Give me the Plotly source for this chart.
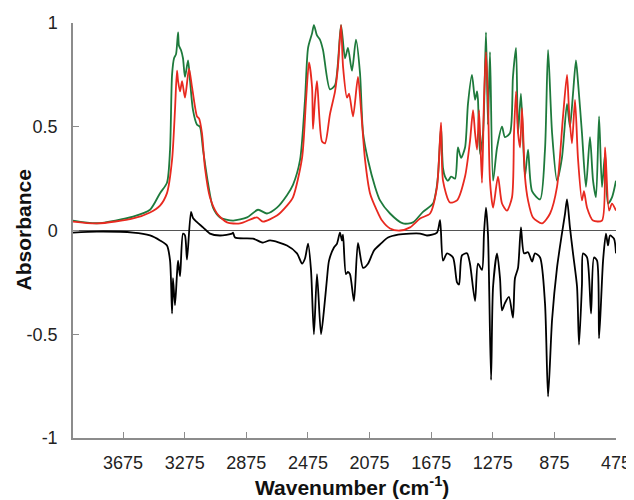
import plotly.graph_objects as go

# ---- data ----
wn_green = [4000, 3844, 3610, 3500, 3435, 3390, 3370, 3357, 3344, 3331, 3318, 3312, 3299, 3286, 3273,
            3253, 3240, 3221, 3195, 3176, 3156, 3124, 3091, 3046, 2961, 2870, 2799, 2741, 2676, 2611,
            2572, 2526, 2494, 2474, 2448, 2436, 2416, 2397, 2377, 2332, 2299, 2260, 2234, 2215, 2189,
            2163, 2137, 2117, 2085, 2039, 2007, 1942, 1858, 1793, 1728, 1663, 1643, 1630, 1611, 1598,
            1585, 1565, 1546, 1520, 1501, 1481, 1455, 1436, 1410, 1390, 1377, 1371, 1358, 1338, 1319,
            1306, 1293, 1273, 1247, 1215, 1196, 1163, 1144, 1124, 1111, 1092, 1066, 1046, 1020, 968,
            936, 916, 890, 858, 826, 793, 774, 754, 735, 722, 696, 670, 644, 624, 605, 585, 566, 546,
            527, 501, 475]
abs_green = [0.048, 0.035, 0.067, 0.10, 0.18, 0.23, 0.39, 0.75, 0.83, 0.85, 0.955, 0.89, 0.87, 0.83, 0.74,
             0.82, 0.72, 0.58, 0.51, 0.50, 0.39, 0.23, 0.11, 0.063, 0.048, 0.063, 0.10, 0.082, 0.11, 0.17,
             0.22, 0.34, 0.63, 0.88, 0.95, 0.99, 0.94, 0.92, 0.87, 0.68, 0.70, 0.99, 0.83, 0.88, 0.77,
             0.92, 0.76, 0.47, 0.34, 0.21, 0.145, 0.082, 0.034, 0.039, 0.09, 0.13, 0.19, 0.27, 0.50, 0.30,
             0.26, 0.24, 0.26, 0.25, 0.40, 0.35, 0.40, 0.61, 0.75, 0.63, 0.67, 0.63, 0.37, 0.47, 0.955,
             0.51, 0.86, 0.24, 0.40, 0.50, 0.45, 0.47, 0.74, 0.88, 0.47, 0.66, 0.26, 0.39, 0.19, 0.15,
             0.39, 0.87, 0.47, 0.24, 0.35, 0.61, 0.50, 0.66, 0.82, 0.72, 0.47, 0.21, 0.45, 0.24, 0.16,
             0.55, 0.21, 0.37, 0.13, 0.16, 0.24]

wn_red = [4000, 3844, 3610, 3500, 3435, 3390, 3357, 3338, 3325, 3318, 3305, 3292, 3273, 3247, 3227,
          3195, 3182, 3163, 3143, 3111, 3065, 3000, 2916, 2806, 2767, 2676, 2611, 2572, 2513, 2487,
          2468, 2448, 2442, 2429, 2416, 2384, 2364, 2332, 2299, 2280, 2260, 2247, 2221, 2208, 2182,
          2150, 2130, 2104, 2072, 2027, 1994, 1942, 1877, 1812, 1747, 1682, 1637, 1611, 1598, 1553,
          1507, 1455, 1423, 1403, 1390, 1377, 1364, 1345, 1332, 1319, 1306, 1293, 1273, 1241, 1215,
          1183, 1150, 1137, 1124, 1111, 1098, 1085, 1066, 1046, 1014, 955, 903, 858, 819, 793, 780,
          761, 741, 722, 696, 683, 663, 624, 566, 546, 520, 501, 475]
abs_red = [0.043, 0.034, 0.058, 0.087, 0.12, 0.18, 0.34, 0.58, 0.77, 0.72, 0.67, 0.72, 0.64, 0.78, 0.69,
           0.55, 0.54, 0.47, 0.30, 0.16, 0.082, 0.039, 0.034, 0.063, 0.043, 0.072, 0.12, 0.16, 0.35, 0.63,
           0.81, 0.69, 0.49, 0.63, 0.72, 0.43, 0.42, 0.56, 0.67, 0.79, 0.99, 0.79, 0.64, 0.66, 0.55,
           0.74, 0.58, 0.34, 0.18, 0.096, 0.048, 0.01, 0.0, 0.015, 0.058, 0.082, 0.21, 0.52, 0.24, 0.135,
           0.145, 0.26, 0.43, 0.58, 0.47, 0.39, 0.58, 0.23, 0.63, 0.86, 0.63, 0.24, 0.11, 0.26, 0.13,
           0.096, 0.16, 0.47, 0.67, 0.47, 0.40, 0.59, 0.26, 0.145, 0.063, 0.034, 0.082, 0.21, 0.55, 0.75, 0.58,
           0.42, 0.63, 0.35, 0.145, 0.19, 0.11, 0.048, 0.048, 0.40, 0.096, 0.13, 0.096]

wn_diff = [4000, 3845, 3610, 3500, 3435, 3390, 3370, 3357, 3351, 3338, 3325, 3318, 3305, 3286, 3273,
           3260, 3234, 3221, 3195, 3156, 3111, 3046, 2968, 2961, 2948, 2831, 2767, 2721, 2611, 2546,
           2513, 2494, 2474, 2455, 2436, 2416, 2390, 2371, 2351, 2338, 2306, 2286, 2267, 2254, 2247,
           2228, 2215, 2202, 2176, 2150, 2117, 2085, 2046, 2001, 1955, 1890, 1812, 1747, 1702, 1637,
           1617, 1598, 1572, 1533, 1507, 1494, 1475, 1442, 1423, 1390, 1371, 1345, 1332, 1319, 1306,
           1286, 1273, 1247, 1228, 1215, 1196, 1170, 1144, 1131, 1111, 1092, 1072, 1046, 1020, 1001,
           968, 936, 916, 890, 858, 826, 806, 793, 774, 754, 728, 715, 696, 689, 663, 637, 618, 598,
           585, 559, 540, 527, 514, 488, 475]
abs_diff = [-0.01, -0.005, -0.01, -0.024, -0.048, -0.072, -0.145, -0.40, -0.23, -0.36, -0.21, -0.145, -0.22, -0.015, -0.024,
            -0.14, 0.09, 0.06, 0.04, 0.015, -0.015, -0.024, -0.015, -0.01, -0.034, -0.039, -0.058, -0.048, -0.072, -0.11,
            -0.16, -0.135, -0.063, -0.19, -0.50, -0.21, -0.50, -0.385, -0.23, -0.145, -0.082, -0.063, -0.01, -0.048, -0.02,
            -0.21, -0.20, -0.21, -0.34, -0.06, -0.18, -0.16, -0.096, -0.063, -0.034, -0.02, -0.015, -0.015, -0.024, -0.01,
            0.05, -0.145, -0.11, -0.13, -0.25, -0.26, -0.12, -0.11, -0.16, -0.34, -0.16, -0.19, -0.015, 0.11, -0.02,
            -0.72, -0.27, -0.11, -0.23, -0.385, -0.35, -0.32, -0.42, -0.23, -0.18, 0.015, -0.11, -0.105, -0.15, -0.11,
            -0.13, -0.35, -0.80, -0.43, -0.18, -0.015, 0.08, 0.15, 0.015, -0.11, -0.27, -0.55, -0.26, -0.11, -0.13, -0.40, -0.13, -0.145,
            -0.52, -0.145, -0.015, -0.072, -0.024, -0.04, -0.11]

x_ticks = [3675, 3275, 2875, 2475, 2075, 1675, 1275, 875, 475]
y_ticks = [-1, -0.5, 0, 0.5, 1]
y_tick_text = ["-1", "-0.5", "0", "0.5", "1"]
x_title = "<b>Wavenumber (cm<sup>-1</sup>)</b>"
y_title = "<b>Absorbance</b>"

FONT = "Liberation Sans, Arial, sans-serif"
LINE = dict(width=1.8, shape="spline", smoothing=0.7)

fig = go.Figure()
fig.add_trace(go.Scatter(x=wn_green, y=abs_green, mode="lines", line=dict(color="#1e7a3c", **LINE)))
fig.add_trace(go.Scatter(x=wn_red, y=abs_red, mode="lines", line=dict(color="#e8291f", **LINE)))
fig.add_trace(go.Scatter(x=wn_diff, y=abs_diff, mode="lines", line=dict(color="#000000", **LINE)))

# the page body has an 8px margin, so the figure is shifted by 8px; margins compensate
fig.update_layout(
    width=634, height=500,
    margin=dict(l=65, r=26, t=15, b=70, autoexpand=False),
    plot_bgcolor="white", paper_bgcolor="white",
    showlegend=False,
    font=dict(family=FONT, size=18, color="#222222"),
    annotations=[
        dict(text=x_title, xref="paper", yref="paper", x=0.513, y=0, yshift=-48,
             xanchor="center", yanchor="middle", showarrow=False,
             font=dict(size=21, color="#111111")),
        dict(text=y_title, xref="paper", yref="paper", x=0, y=0.5, xshift=-50,
             xanchor="center", yanchor="middle", showarrow=False, textangle=-90,
             font=dict(size=21, color="#111111")),
    ],
)
fig.update_xaxes(
    range=[4000, 475], tickvals=x_ticks, ticktext=[str(t) for t in x_ticks],
    showgrid=False, zeroline=False, automargin=False,
    showline=True, linecolor="#8c8c8c", linewidth=1.5,
    ticks="inside", ticklen=6, tickcolor="#8c8c8c", tickwidth=1.2,
    ticklabelstandoff=8,
)
fig.update_yaxes(
    range=[-1, 1], tickvals=y_ticks, ticktext=y_tick_text,
    showgrid=False, zeroline=True, zerolinecolor="#555555", zerolinewidth=1,
    automargin=False,
    showline=True, linecolor="#8c8c8c", linewidth=1.5,
    ticks="inside", ticklen=6, tickcolor="#8c8c8c", tickwidth=1.2,
    ticklabelstandoff=10,
)

fig.write_html("out.html")
